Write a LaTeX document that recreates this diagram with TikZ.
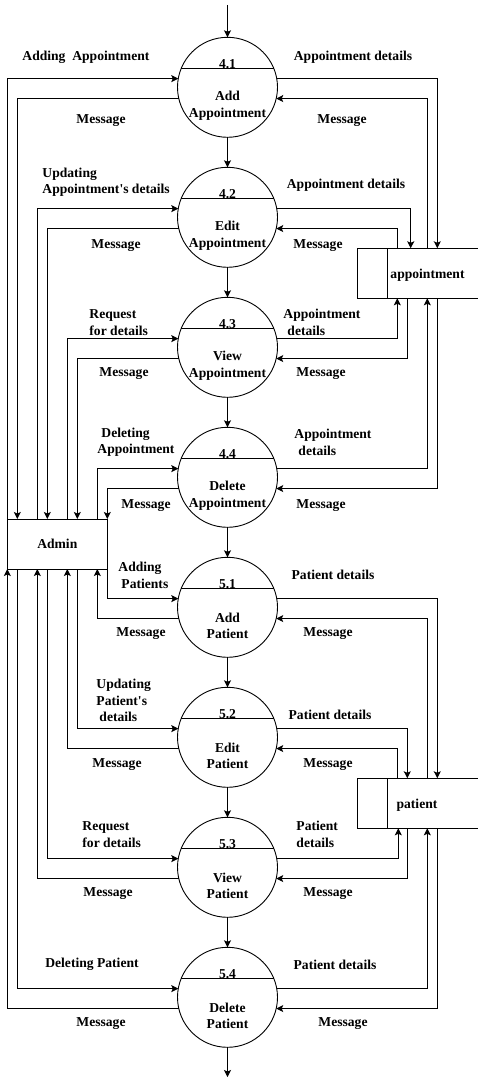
\documentclass[tikz,border=0pt]{standalone}
\usepackage{fontspec}
\setmainfont{Liberation Serif}
\usetikzlibrary{arrows.meta,positioning}

\begin{document}
\begin{tikzpicture}[x=1pt,y=-1pt,
    font=\fontsize{13.6}{16.4}\selectfont\bfseries,
    line width=0.9pt,
    process/.style={draw, circle, minimum size=100pt, inner sep=0pt, outer sep=0pt},
    entity/.style={draw, rectangle, minimum width=100pt, minimum height=50pt, inner sep=0pt, outer sep=0pt},
    store/.style={rectangle, minimum width=120.7pt, minimum height=50pt, inner sep=0pt, outer sep=0pt},
    flow/.style={-{Stealth[length=7pt,width=7pt,inset=1.5pt]}},
    lbl/.style={yshift=-2.5pt},
    mlbl/.style={inner sep=0pt, align=left, anchor=west, yshift=-2.5pt},
    node distance=30pt]
    \useasboundingbox (0,0) rectangle (478,1086);

    % Processes
    \node[process] (p41) at (227.5,87.3) {};
    \node[process, below=of p41] (p42) {};
    \node[process, below=of p42] (p43) {};
    \node[process, below=of p43] (p44) {};
    \node[process, below=of p44] (p51) {};
    \node[process, below=of p51] (p52) {};
    \node[process, below=of p52] (p53) {};
    \node[process, below=of p53] (p54) {};

    % Process numbers and names
    \draw (p41.158) -- (p41.22);
    \node (n41) at ([yshift=23pt]p41.center) {4.1};
    \node[align=center] (t41) at ([yshift=-18.6pt]p41.center) {Add\\Appointment};
    \draw (p42.158) -- (p42.22);
    \node (n42) at ([yshift=23pt]p42.center) {4.2};
    \node[align=center] (t42) at ([yshift=-18.6pt]p42.center) {Edit\\Appointment};
    \draw (p43.158) -- (p43.22);
    \node (n43) at ([yshift=23pt]p43.center) {4.3};
    \node[align=center] (t43) at ([yshift=-18.6pt]p43.center) {View\\Appointment};
    \draw (p44.158) -- (p44.22);
    \node (n44) at ([yshift=23pt]p44.center) {4.4};
    \node[align=center] (t44) at ([yshift=-18.6pt]p44.center) {Delete\\Appointment};
    \draw (p51.158) -- (p51.22);
    \node (n51) at ([yshift=23pt]p51.center) {5.1};
    \node[align=center] (t51) at ([yshift=-18.6pt]p51.center) {Add\\Patient};
    \draw (p52.158) -- (p52.22);
    \node (n52) at ([yshift=23pt]p52.center) {5.2};
    \node[align=center] (t52) at ([yshift=-18.6pt]p52.center) {Edit\\Patient};
    \draw (p53.158) -- (p53.22);
    \node (n53) at ([yshift=23pt]p53.center) {5.3};
    \node[align=center] (t53) at ([yshift=-18.6pt]p53.center) {View\\Patient};
    \draw (p54.158) -- (p54.22);
    \node (n54) at ([yshift=23pt]p54.center) {5.4};
    \node[align=center] (t54) at ([yshift=-18.6pt]p54.center) {Delete\\Patient};

    % Admin entity
    \node[entity] (admin) at (57.3,544) {Admin};

    % Data stores
    \node[store] (apt) at (417.65,273.3) {};
    \draw (apt.north east) -- (apt.north west) -- (apt.south west) -- (apt.south east);
    \draw ([xshift=30pt]apt.north west) -- ([xshift=30pt]apt.south west);
    \node[lbl] (aptname) at (427.5,273) {appointment};
    \node[store] (pat) at (417.65,803.3) {};
    \draw (pat.north east) -- (pat.north west) -- (pat.south west) -- (pat.south east);
    \draw ([xshift=30pt]pat.north west) -- ([xshift=30pt]pat.south west);
    \node[lbl] (patname) at (417,802.5) {patient};

    % Main flow
    \coordinate (start) at (227.5,5);
    \coordinate (finish) at (227.5,1077);
    \draw[flow] (start) -- (p41.north);
    \draw[flow] (p41.south) -- (p42.north);
    \draw[flow] (p42.south) -- (p43.north);
    \draw[flow] (p43.south) -- (p44.north);
    \draw[flow] (p44.south) -- (p51.north);
    \draw[flow] (p51.south) -- (p52.north);
    \draw[flow] (p52.south) -- (p53.north);
    \draw[flow] (p53.south) -- (p54.north);
    \draw[flow] (p54.south) -- (finish);

    % Admin <-> appointment processes
    \draw[flow] (admin.north west) |- (p41.170);
    \draw[flow] (p41.193) -| ([xshift=10pt]admin.north west);
    \draw[flow] ([xshift=30pt]admin.north west) |- (p42.170);
    \draw[flow] (p42.193) -| ([xshift=40pt]admin.north west);
    \draw[flow] ([xshift=60pt]admin.north west) |- (p43.170);
    \draw[flow] (p43.193) -| ([xshift=70pt]admin.north west);
    \draw[flow] ([xshift=90pt]admin.north west) |- (p44.170);
    \draw[flow] (p44.193) -| (admin.north east);

    % Admin <-> patient processes
    \draw[flow] (admin.south east) |- (p51.170);
    \draw[flow] (p51.193) -| ([xshift=90pt]admin.south west);
    \draw[flow] ([xshift=70pt]admin.south west) |- (p52.170);
    \draw[flow] (p52.193) -| ([xshift=60pt]admin.south west);
    \draw[flow] ([xshift=40pt]admin.south west) |- (p53.170);
    \draw[flow] (p53.193) -| ([xshift=30pt]admin.south west);
    \draw[flow] ([xshift=10pt]admin.south west) |- (p54.170);
    \draw[flow] (p54.193) -| (admin.south west);

    % Appointment store flows
    \draw[flow] (p41.10) -| ([xshift=80pt]apt.north west);
    \draw[flow] ([xshift=70pt]apt.north west) |- (p41.347);
    \draw[flow] (p42.10) -| ([xshift=53.4pt]apt.north west);
    \draw[flow] ([xshift=40pt]apt.north west) |- (p42.347);
    \draw[flow] (p43.10) -| ([xshift=40pt]apt.south west);
    \draw[flow] ([xshift=50pt]apt.south west) |- (p43.347);
    \draw[flow] (p44.10) -| ([xshift=70pt]apt.south west);
    \draw[flow] ([xshift=80pt]apt.south west) |- (p44.347);

    % Patient store flows
    \draw[flow] (p51.10) -| ([xshift=80pt]pat.north west);
    \draw[flow] ([xshift=70pt]pat.north west) |- (p51.347);
    \draw[flow] (p52.10) -| ([xshift=50pt]pat.north west);
    \draw[flow] ([xshift=40pt]pat.north west) |- (p52.347);
    \draw[flow] (p53.10) -| ([xshift=41pt]pat.south west);
    \draw[flow] ([xshift=50pt]pat.south west) |- (p53.347);
    \draw[flow] (p54.10) -| ([xshift=70pt]pat.south west);
    \draw[flow] ([xshift=80pt]pat.south west) |- (p54.347);

    % Labels, left side
    \node[mlbl] (l41in) at (22,55) {Adding\ \ Appointment};
    \node[lbl] (l41out) at (101,118) {Message};
    \node[mlbl] (l42in) at (42,180) {Updating\\Appointment\textquotesingle s details};
    \node[lbl] (l42out) at (116,243) {Message};
    \node[mlbl] (l43in) at (89,320) {Request\\for details};
    \node[lbl] (l43out) at (124,371) {Message};
    \node[mlbl] (l44in) at (97,440) {\hspace*{4pt}Deleting\\Appointment};
    \node[lbl] (l44out) at (146,503) {Message};
    \node[mlbl] (l51in) at (118,573) {Adding\\\hspace*{3pt}Patients};
    \node[lbl] (l51out) at (141,631) {Message};
    \node[mlbl] (l52in) at (96,698) {Updating\\Patient\textquotesingle s\\\hspace*{3pt}details};
    \node[lbl] (l52out) at (117,762) {Message};
    \node[mlbl] (l53in) at (82,832) {Request\\for details};
    \node[lbl] (l53out) at (108,891) {Message};
    \node[lbl] (l54in) at (92,962) {Deleting Patient};
    \node[lbl] (l54out) at (101,1021) {Message};

    % Labels, right side
    \node[lbl] (l41st) at (353,55) {Appointment details};
    \node[lbl] (l41ret) at (342,118) {Message};
    \node[lbl] (l42st) at (346,183) {Appointment details};
    \node[lbl] (l42ret) at (318,243) {Message};
    \node[mlbl] (l43st) at (283,320) {Appointment\\\hspace*{4pt}details};
    \node[lbl] (l43ret) at (321,371) {Message};
    \node[mlbl] (l44st) at (294,440) {Appointment\\\hspace*{4pt}details};
    \node[lbl] (l44ret) at (321,503) {Message};
    \node[lbl] (l51st) at (333,572) {Patient details};
    \node[lbl] (l51ret) at (328,631) {Message};
    \node[lbl] (l52st) at (330,712) {Patient details};
    \node[lbl] (l52ret) at (328,762) {Message};
    \node[mlbl] (l53st) at (296,832) {Patient\\details};
    \node[lbl] (l53ret) at (328,891) {Message};
    \node[lbl] (l54st) at (335,962) {Patient details};
    \node[lbl] (l54ret) at (343,1021) {Message};

\end{tikzpicture}
\end{document}
